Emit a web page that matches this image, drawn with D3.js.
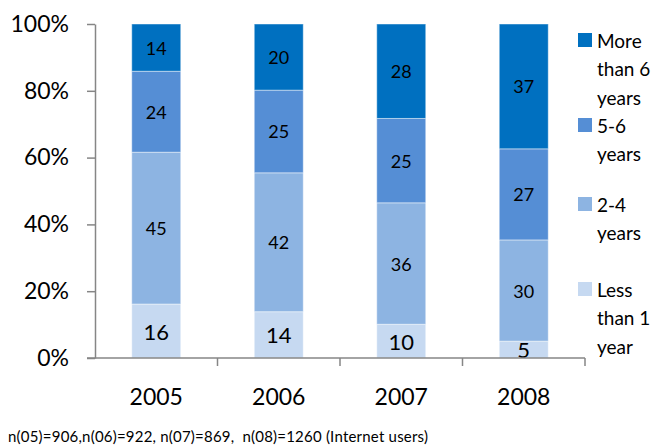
<!DOCTYPE html>
<html>
<head>
<meta charset="utf-8">
<script src="https://cdn.jsdelivr.net/npm/d3@7"></script>
<style>
  html, body { margin: 0; padding: 0; background: #fff; }
  svg { display: block; font-family: Lato, "Open Sans", sans-serif; }
</style>
</head>
<body>
<svg id="chart" width="662" height="447"></svg>
<script>
// Years on the x axis
const years = ["2005", "2006", "2007", "2008"];

// Share of respondents by length of Internet use (%)
const lessThan1 = [16, 14, 10, 5];
const twoToFour = [45, 42, 36, 30];
const fiveToSix = [24, 25, 25, 27];
const moreThan6 = [14, 20, 28, 37];

const seriesKeys = ["lessThan1", "twoToFour", "fiveToSix", "moreThan6"];
const seriesColors = ["#C6D9F1", "#8DB4E2", "#558ED5", "#0070C0"];

// Legend text, top entry first, already wrapped into lines
const legendLines = [
  ["More", "than 6", "years"],
  ["5-6", "years"],
  ["2-4", "years"],
  ["Less", "than 1", "year"]
];
const legendColors = ["#0070C0", "#558ED5", "#8DB4E2", "#C6D9F1"];

const yTicks = [0, 20, 40, 60, 80, 100];
const footnote = "n(05)=906,n(06)=922, n(07)=869,  n(08)=1260 (Internet users)";

// Build rows for the stack layout
const rows = years.map((y, i) => ({
  year: y,
  lessThan1: lessThan1[i],
  twoToFour: twoToFour[i],
  fiveToSix: fiveToSix[i],
  moreThan6: moreThan6[i]
}));

const svg = d3.select("#chart");
const axisColor = "#868686";

const plot = { left: 95, right: 585, top: 24, bottom: 358 };

const x = d3.scaleBand()
  .domain(years)
  .range([plot.left, plot.right])
  .paddingInner(0.6)
  .paddingOuter(0.3);

const y = d3.scaleLinear().domain([0, 1]).range([plot.bottom, plot.top]);
const yPct = d3.scaleLinear().domain([0, 100]).range([plot.bottom, plot.top]);

// 100% stacked: each year is normalised to its own total
const stacked = d3.stack().keys(seriesKeys).offset(d3.stackOffsetExpand)(rows);

const layers = svg.append("g").selectAll("g")
  .data(stacked)
  .join("g")
  .attr("fill", (d, i) => seriesColors[i]);

layers.selectAll("rect")
  .data(d => d)
  .join("rect")
  .attr("x", d => x(d.data.year))
  .attr("y", d => y(d[1]))
  .attr("width", x.bandwidth())
  .attr("height", d => y(d[0]) - y(d[1]))
  .attr("stroke", "rgba(255,255,255,0.45)")
  .attr("stroke-width", 1);

// Value labels centred in each segment; the bottom layer uses a larger size
layers.each(function (layer, li) {
  d3.select(this).selectAll("text")
    .data(layer)
    .join("text")
    .attr("x", d => x(d.data.year) + x.bandwidth() / 2)
    .attr("y", d => (y(d[0]) + y(d[1])) / 2)
    .attr("text-anchor", "middle")
    .attr("dominant-baseline", "central")
    .attr("fill", "#000")
    .attr("font-size", li === 0 ? 22 : 18)
    .text(d => d.data[layer.key]);
});

// Y axis
const yAxis = svg.append("g")
  .attr("transform", `translate(${plot.left},0)`)
  .call(d3.axisLeft(yPct)
    .tickValues(yTicks)
    .tickFormat(d => d + "%")
    .tickSize(8)
    .tickSizeOuter(0)
    .tickPadding(18));
yAxis.select(".domain").attr("stroke", axisColor).attr("stroke-width", 1.5);
yAxis.selectAll(".tick line").attr("stroke", axisColor).attr("stroke-width", 1.5);
yAxis.selectAll(".tick text")
  .attr("font-size", 23)
  .attr("font-family", "Lato, sans-serif")
  .attr("fill", "#000");

// X axis: labels under bar centres, tick marks on category boundaries
const xAxis = svg.append("g")
  .attr("transform", `translate(0,${plot.bottom})`)
  .call(d3.axisBottom(x).tickSize(0).tickPadding(31));
xAxis.select(".domain").remove();
xAxis.selectAll(".tick text")
  .attr("font-size", 23)
  .attr("font-family", "Lato, sans-serif")
  .attr("fill", "#000");

const boundaries = d3.range(years.length + 1).map(i => plot.left + i * x.step());
svg.append("line")
  .attr("x1", plot.left - 8).attr("x2", plot.right)
  .attr("y1", plot.bottom).attr("y2", plot.bottom)
  .attr("stroke", axisColor).attr("stroke-width", 1.5);
svg.append("g").selectAll("line")
  .data(boundaries.slice(1))
  .join("line")
  .attr("x1", d => d).attr("x2", d => d)
  .attr("y1", plot.bottom).attr("y2", plot.bottom + 8)
  .attr("stroke", axisColor).attr("stroke-width", 1.5);

// Legend
const legendTop = [40, 125, 204, 289];
const lineGap = 28.7;
const legend = svg.append("g");
legendLines.forEach((lines, i) => {
  const g = legend.append("g").attr("transform", `translate(0,${legendTop[i]})`);
  g.append("rect")
    .attr("x", 578).attr("y", -7)
    .attr("width", 14).attr("height", 14)
    .attr("fill", legendColors[i]);
  g.selectAll("text")
    .data(lines)
    .join("text")
    .attr("x", 597)
    .attr("y", (d, j) => j * lineGap)
    .attr("dominant-baseline", "central")
    .attr("font-size", 19)
    .attr("fill", "#000")
    .text(d => d);
});

// Sample sizes note
svg.append("text")
  .attr("x", 8)
  .attr("y", 442)
  .attr("font-size", 15)
  .attr("fill", "#000")
  .attr("textLength", 420)
  .attr("lengthAdjust", "spacing")
  .style("white-space", "pre")
  .text(footnote);
</script>
</body>
</html>
